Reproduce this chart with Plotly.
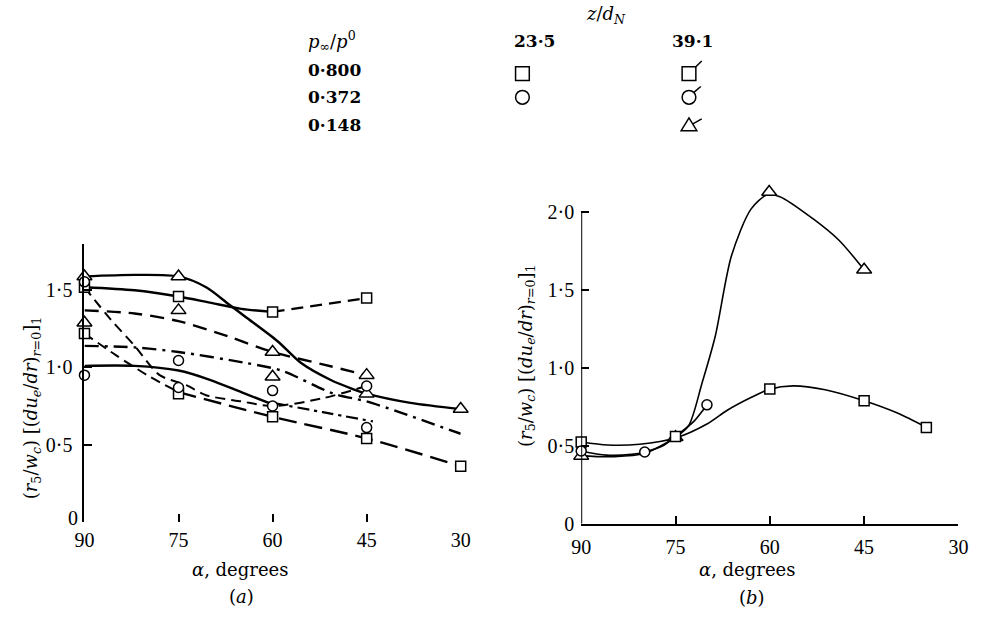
import plotly.graph_objects as go

W, H = 989, 627

# ---------------- data: panel (a) ----------------
tri_a_x = [90, 75, 75, 90, 60, 60, 45, 45, 30]
tri_a_y = [1.59, 1.59, 1.37, 1.29, 1.10, 0.94, 0.95, 0.83, 0.73]
sq_a_x = [90, 75, 60, 45, 90, 75, 60, 45, 30]
sq_a_y = [1.52, 1.46, 1.36, 1.45, 1.22, 0.83, 0.68, 0.54, 0.36]
ci_a_x = [90, 90, 75, 75, 60, 60, 45, 45]
ci_a_y = [1.555, 0.95, 1.045, 0.87, 0.85, 0.75, 0.88, 0.61]

a1_x = [90, 82, 75, 70.6, 67, 64.4, 59.2, 55.5, 50.8, 47.2, 45, 38, 30]
a1_y = [1.59, 1.60, 1.59, 1.52, 1.41, 1.33, 1.17, 1.03, 0.92, 0.86, 0.83, 0.77, 0.73]
a2_x = [90, 82, 75, 70, 65, 60]
a2_y = [1.52, 1.50, 1.46, 1.42, 1.38, 1.36]
a2b_x = [60, 45]
a2b_y = [1.36, 1.45]
a3_x = [90, 82, 75, 67, 60, 52, 45]
a3_y = [1.37, 1.35, 1.30, 1.20, 1.10, 1.02, 0.95]
a4_x = [90, 82, 75, 64.4, 58.6, 50.3, 45, 39.8, 30]
a4_y = [1.14, 1.13, 1.10, 1.03, 0.98, 0.83, 0.78, 0.71, 0.57]
a5_x = [90, 82, 75, 70, 65, 60]
a5_y = [1.01, 1.01, 0.98, 0.92, 0.84, 0.76]
a6_x = [90, 85.8, 82, 78, 73.75, 70.6, 65, 60, 52, 45]
a6_y = [1.52, 1.31, 1.14, 0.95, 0.885, 0.82, 0.78, 0.75, 0.80, 0.88]
a7_x = [60, 52, 44]
a7_y = [0.77, 0.71, 0.65]
a8_x = [90, 85, 80, 75]
a8_y = [1.22, 1.08, 0.95, 0.84]
a9_x = [75, 60, 45, 30]
a9_y = [0.84, 0.68, 0.54, 0.36]

# ---------------- data: panel (b) ----------------
sq_b_x = [90, 75, 60, 45, 35.1]
sq_b_y = [0.524, 0.56, 0.864, 0.789, 0.618]
ci_b_x = [90, 79.9, 70.0]
ci_b_y = [0.467, 0.46, 0.763]
tri_b_x = [90, 75, 60.1, 45]
tri_b_y = [0.435, 0.555, 2.13, 1.63]

b_sq_x = [90, 85.8, 80.7, 75, 70, 66.7, 63, 60, 56.3, 51.2, 45, 39.7, 35.1]
b_sq_y = [0.524, 0.505, 0.51, 0.55, 0.64, 0.73, 0.81, 0.864, 0.885, 0.86, 0.789, 0.71, 0.618]
b_ci_x = [90, 86, 82, 79.9, 77, 75, 72, 70]
b_ci_y = [0.467, 0.44, 0.445, 0.46, 0.50, 0.56, 0.66, 0.763]
b_tri_x = [90, 85, 80, 75, 72.9, 70.8, 68.7, 66.1, 63, 60.5, 58.4, 53.2, 49, 45]
b_tri_y = [0.435, 0.43, 0.45, 0.555, 0.63, 0.90, 1.20, 1.72, 2.02, 2.11, 2.10, 1.96, 1.82, 1.63]

x_ticks = [90, 75, 60, 45, 30]
x_ticktext = ["90", "75", "60", "45", "30"]
ya_ticks = [0.5, 1.0, 1.5]
ya_ticktext = ["0·5", "1·0", "1·5"]
yb_ticks = [0, 0.5, 1.0, 1.5, 2.0]
yb_ticktext = ["0", "0·5", "1·0", "1·5", "2·0"]

legend_rows = ["0·800", "0·372", "0·148"]
legend_cols = ["23·5", "39·1"]


def px(x):
    return x / W


def py(y):
    return 1 - y / H


fig = go.Figure()


def curve(x, y, dash, width, xa, ya):
    fig.add_trace(go.Scatter(x=x, y=y, mode="lines",
                             line=dict(color="black", width=width, dash=dash,
                                       shape="spline", smoothing=0.8),
                             xaxis=xa, yaxis=ya, hoverinfo="skip",
                             showlegend=False))


def marks(x, y, sym, size, xa, ya):
    fig.add_trace(go.Scatter(x=x, y=y, mode="markers",
                             marker=dict(symbol=sym, size=size, color="white",
                                         line=dict(color="black", width=1.5)),
                             xaxis=xa, yaxis=ya, hoverinfo="skip",
                             showlegend=False, cliponaxis=False))


# panel (a) curves
curve(a1_x, a1_y, "solid", 2.4, "x", "y")
curve(a2_x, a2_y, "solid", 2.4, "x", "y")
curve(a2b_x, a2b_y, "12px,7px", 2.4, "x", "y")
curve(a3_x, a3_y, "14px,8px", 2.4, "x", "y")
curve(a4_x, a4_y, "14px,6px,3px,6px", 2.4, "x", "y")
curve(a5_x, a5_y, "solid", 2.4, "x", "y")
curve(a6_x, a6_y, "10px,6px", 2.0, "x", "y")
curve(a7_x, a7_y, "12px,5px,3px,5px", 2.2, "x", "y")
curve(a8_x, a8_y, "10px,6px", 2.0, "x", "y")
curve(a9_x, a9_y, "18px,8px", 2.4, "x", "y")

marks(tri_a_x, tri_a_y, "triangle-up", 13, "x", "y")
marks(sq_a_x, sq_a_y, "square", 10, "x", "y")
marks(ci_a_x, ci_a_y, "circle", 10, "x", "y")

# panel (b) curves
curve(b_sq_x, b_sq_y, "solid", 1.6, "x2", "y2")
curve(b_ci_x, b_ci_y, "solid", 1.6, "x2", "y2")
curve(b_tri_x, b_tri_y, "solid", 1.6, "x2", "y2")

marks(tri_b_x, tri_b_y, "triangle-up", 13, "x2", "y2")
marks(sq_b_x, sq_b_y, "square", 10, "x2", "y2")
marks(ci_b_x, ci_b_y, "circle", 10, "x2", "y2")

tickfont = dict(family="Liberation Serif", size=20, color="black")
axis_common = dict(showgrid=False, zeroline=False, ticks="inside", ticklen=8,
                   tickwidth=2, tickcolor="black", tickfont=tickfont,
                   fixedrange=True)

ya_top = 1.8
yb_top = 2.25
fig.update_layout(
    width=W, height=H, margin=dict(l=0, r=0, t=0, b=0),
    paper_bgcolor="white", plot_bgcolor="white",
    xaxis=dict(domain=[px(76), px(460)], range=[90, 30], tickvals=x_ticks,
               ticktext=x_ticktext, showline=False, anchor="y",
               ticklabelstandoff=4, **axis_common),
    yaxis=dict(domain=[py(531), py(531 - ya_top * 157)], range=[0, ya_top],
               tickvals=ya_ticks, ticktext=ya_ticktext, showline=True,
               linewidth=2, linecolor="black", anchor="x",
               ticklabelstandoff=6, **axis_common),
    xaxis2=dict(domain=[px(583), px(968)], range=[90, 30], tickvals=x_ticks,
                ticktext=x_ticktext, showline=True, linewidth=2,
                linecolor="black", anchor="y2", ticklabelstandoff=4,
                **axis_common),
    yaxis2=dict(domain=[py(533), py(533 - yb_top * 158.5)], range=[0, yb_top],
                tickvals=yb_ticks, ticktext=yb_ticktext, showline=False,
                anchor="x2", ticklabelstandoff=6, **axis_common),
)

shapes = []
# y axis line of panel (b) ending at 2.0
shapes.append(dict(type="line", xref="x2", yref="y2", x0=90, x1=90, y0=0, y1=2.0,
                   line=dict(color="black", width=2)))


# legend symbols
def rect(cx, cy, s):
    return dict(type="rect", xref="paper", yref="paper",
                x0=px(cx - s), x1=px(cx + s), y0=py(cy + s), y1=py(cy - s),
                line=dict(color="black", width=1.5), fillcolor="white")


def circ(cx, cy, r):
    return dict(type="circle", xref="paper", yref="paper",
                x0=px(cx - r), x1=px(cx + r), y0=py(cy + r), y1=py(cy - r),
                line=dict(color="black", width=1.5), fillcolor="white")


def seg(x0, y0, x1, y1):
    return dict(type="line", xref="paper", yref="paper",
                x0=px(x0), x1=px(x1), y0=py(y0), y1=py(y1),
                line=dict(color="black", width=1.5))


shapes.append(rect(523, 75, 7))
shapes.append(circ(523, 99, 7))
shapes.append(rect(693, 75, 7))
shapes.append(seg(700, 68, 706, 62))
shapes.append(circ(693, 99, 7))
shapes.append(seg(698, 94, 705, 88))
tx = [px(685), px(701), px(693)]
ty = [py(133), py(133), py(120)]
shapes.append(dict(type="path", xref="paper", yref="paper",
                   path=f"M {tx[0]} {ty[0]} L {tx[1]} {ty[1]} L {tx[2]} {ty[2]} Z",
                   line=dict(color="black", width=1.5), fillcolor="white"))
shapes.append(seg(697, 126, 706, 121))
fig.update_layout(shapes=shapes)

ann = []
serif = "DejaVu Serif"


def text(t, x, y, size=18, xanchor="center", angle=0, family=serif):
    ann.append(dict(text=t, x=px(x), y=py(y), xref="paper", yref="paper",
                    showarrow=False, xanchor=xanchor, yanchor="middle",
                    textangle=angle,
                    font=dict(family=family, size=size, color="black")))


text("<i>z</i>/<i>d</i><sub><i>N</i></sub>", 608, 15, 18)
text("<i>p</i><sub>∞</sub>/<i>p</i><sup>0</sup>", 302, 42, 18, xanchor="left")
text("<b>" + legend_cols[0] + "</b>", 535, 42, 17)
text("<b>" + legend_cols[1] + "</b>", 697, 42, 17)
for i, r in enumerate(legend_rows):
    text("<b>" + r + "</b>", 302, 71 + i * 28, 17, xanchor="left")

# "0" label of panel (a) without a tick mark
text("0", 64, 527, 20, family="Liberation Serif")

text("<i>α</i>, degrees", 235, 580, 18)
text("(<i>a</i>)", 236, 607, 18)
text("<i>α</i>, degrees", 752, 580, 18)
text("(<i>b</i>)", 757, 608, 18)

ytitle = ("(<i>r</i><sub>5</sub>/<i>w</i><sub><i>c</i></sub>) "
          "[(<i>du</i><sub><i>e</i></sub>/<i>dr</i>)<sub><i>r</i>=0</sub>]<sub>1</sub>")
text(ytitle, 22, 415, 18, angle=-90)
text(ytitle, 527, 362, 18, angle=-90)

fig.update_layout(annotations=ann)

fig.write_html("out.html")
